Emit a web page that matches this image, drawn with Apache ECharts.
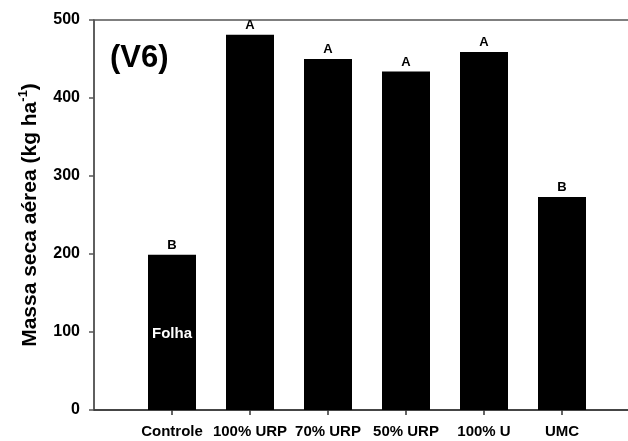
<!DOCTYPE html>
<html><head><meta charset="utf-8">
<script src="https://cdn.jsdelivr.net/npm/echarts@6/dist/echarts.min.js"></script>
<style>html,body{margin:0;padding:0;background:#fff}#c{width:628px;height:441px}</style>
</head><body><div id="c"></div>
<script>
var categories = ['Controle', '100% URP', '70% URP', '50% URP', '100% U', 'UMC'];
var values = [199, 481, 450, 434, 459, 273];
var letters = ['B', 'A', 'A', 'A', 'A', 'B'];
var yTicks = [0, 100, 200, 300, 400, 500];

var chart = echarts.init(document.getElementById('c'), null, {renderer: 'canvas'});
var FF = '"Liberation Sans", Arial, sans-serif';
var catIdx = categories.map(function (c, i) { return i; });
chart.setOption({
  animation: false,
  grid: {left: 94, top: 20, bottom: 31, right: -12, outerBoundsMode: 'none', show: true, borderColor: '#555', borderWidth: 1.5, containLabel: false},
  xAxis: {
    type: 'value', min: -1, max: 6,
    splitLine: {show: false},
    axisLine: {show: true, onZero: false, lineStyle: {color: '#333', width: 1.5}},
    axisTick: {show: true, customValues: catIdx, length: 5, inside: false, lineStyle: {color: '#333', width: 1.5}},
    axisLabel: {customValues: catIdx, margin: 14, fontFamily: FF, fontWeight: 'bold', fontSize: 15, color: '#000',
      formatter: function (v) { return categories[Math.round(v)]; }}
  },
  yAxis: {
    type: 'value', min: 0, max: 500, interval: 100,
    splitLine: {show: false},
    axisLine: {show: true, onZero: false, lineStyle: {color: '#555', width: 1.5}},
    axisTick: {show: true, length: 5, lineStyle: {color: '#555', width: 1.5}},
    axisLabel: {margin: 14, fontFamily: FF, fontWeight: 'bold', fontSize: 16, color: '#000',
      formatter: function (v) { return yTicks.indexOf(v) >= 0 ? String(v) : ''; }},
    name: '{a|Massa seca aérea (kg ha}{s|-1}{a|)}',
    nameLocation: 'middle', nameGap: 53, nameRotate: 90,
    nameTextStyle: {rich: {
      a: {fontFamily: FF, fontWeight: 'bold', fontSize: 21, color: '#000', lineHeight: 24, verticalAlign: 'bottom'},
      s: {fontFamily: FF, fontWeight: 'bold', fontSize: 13, color: '#000', lineHeight: 24, verticalAlign: 'top'}
    }}
  },
  series: [{
    type: 'bar', barWidth: 48,
    itemStyle: {color: '#000'},
    data: values.map(function (v, i) { return [i, v]; }),
    label: {show: true, position: 'top', distance: 3, fontFamily: FF, fontWeight: 'bold', fontSize: 13, color: '#000',
      formatter: function (p) { return letters[p.dataIndex]; }},
    markPoint: {
      symbol: 'circle', symbolSize: 0,
      data: [{coord: [0, 97], label: {show: true, position: 'inside', formatter: 'Folha', color: '#fff', fontFamily: FF, fontWeight: 'bold', fontSize: 15}}]
    }
  }],
  graphic: [{type: 'text', left: 110, top: 43, style: {text: '(V6)', fontFamily: FF, fontWeight: 'bold', fontSize: 31, fill: '#000'}}]
});
</script></body></html>
